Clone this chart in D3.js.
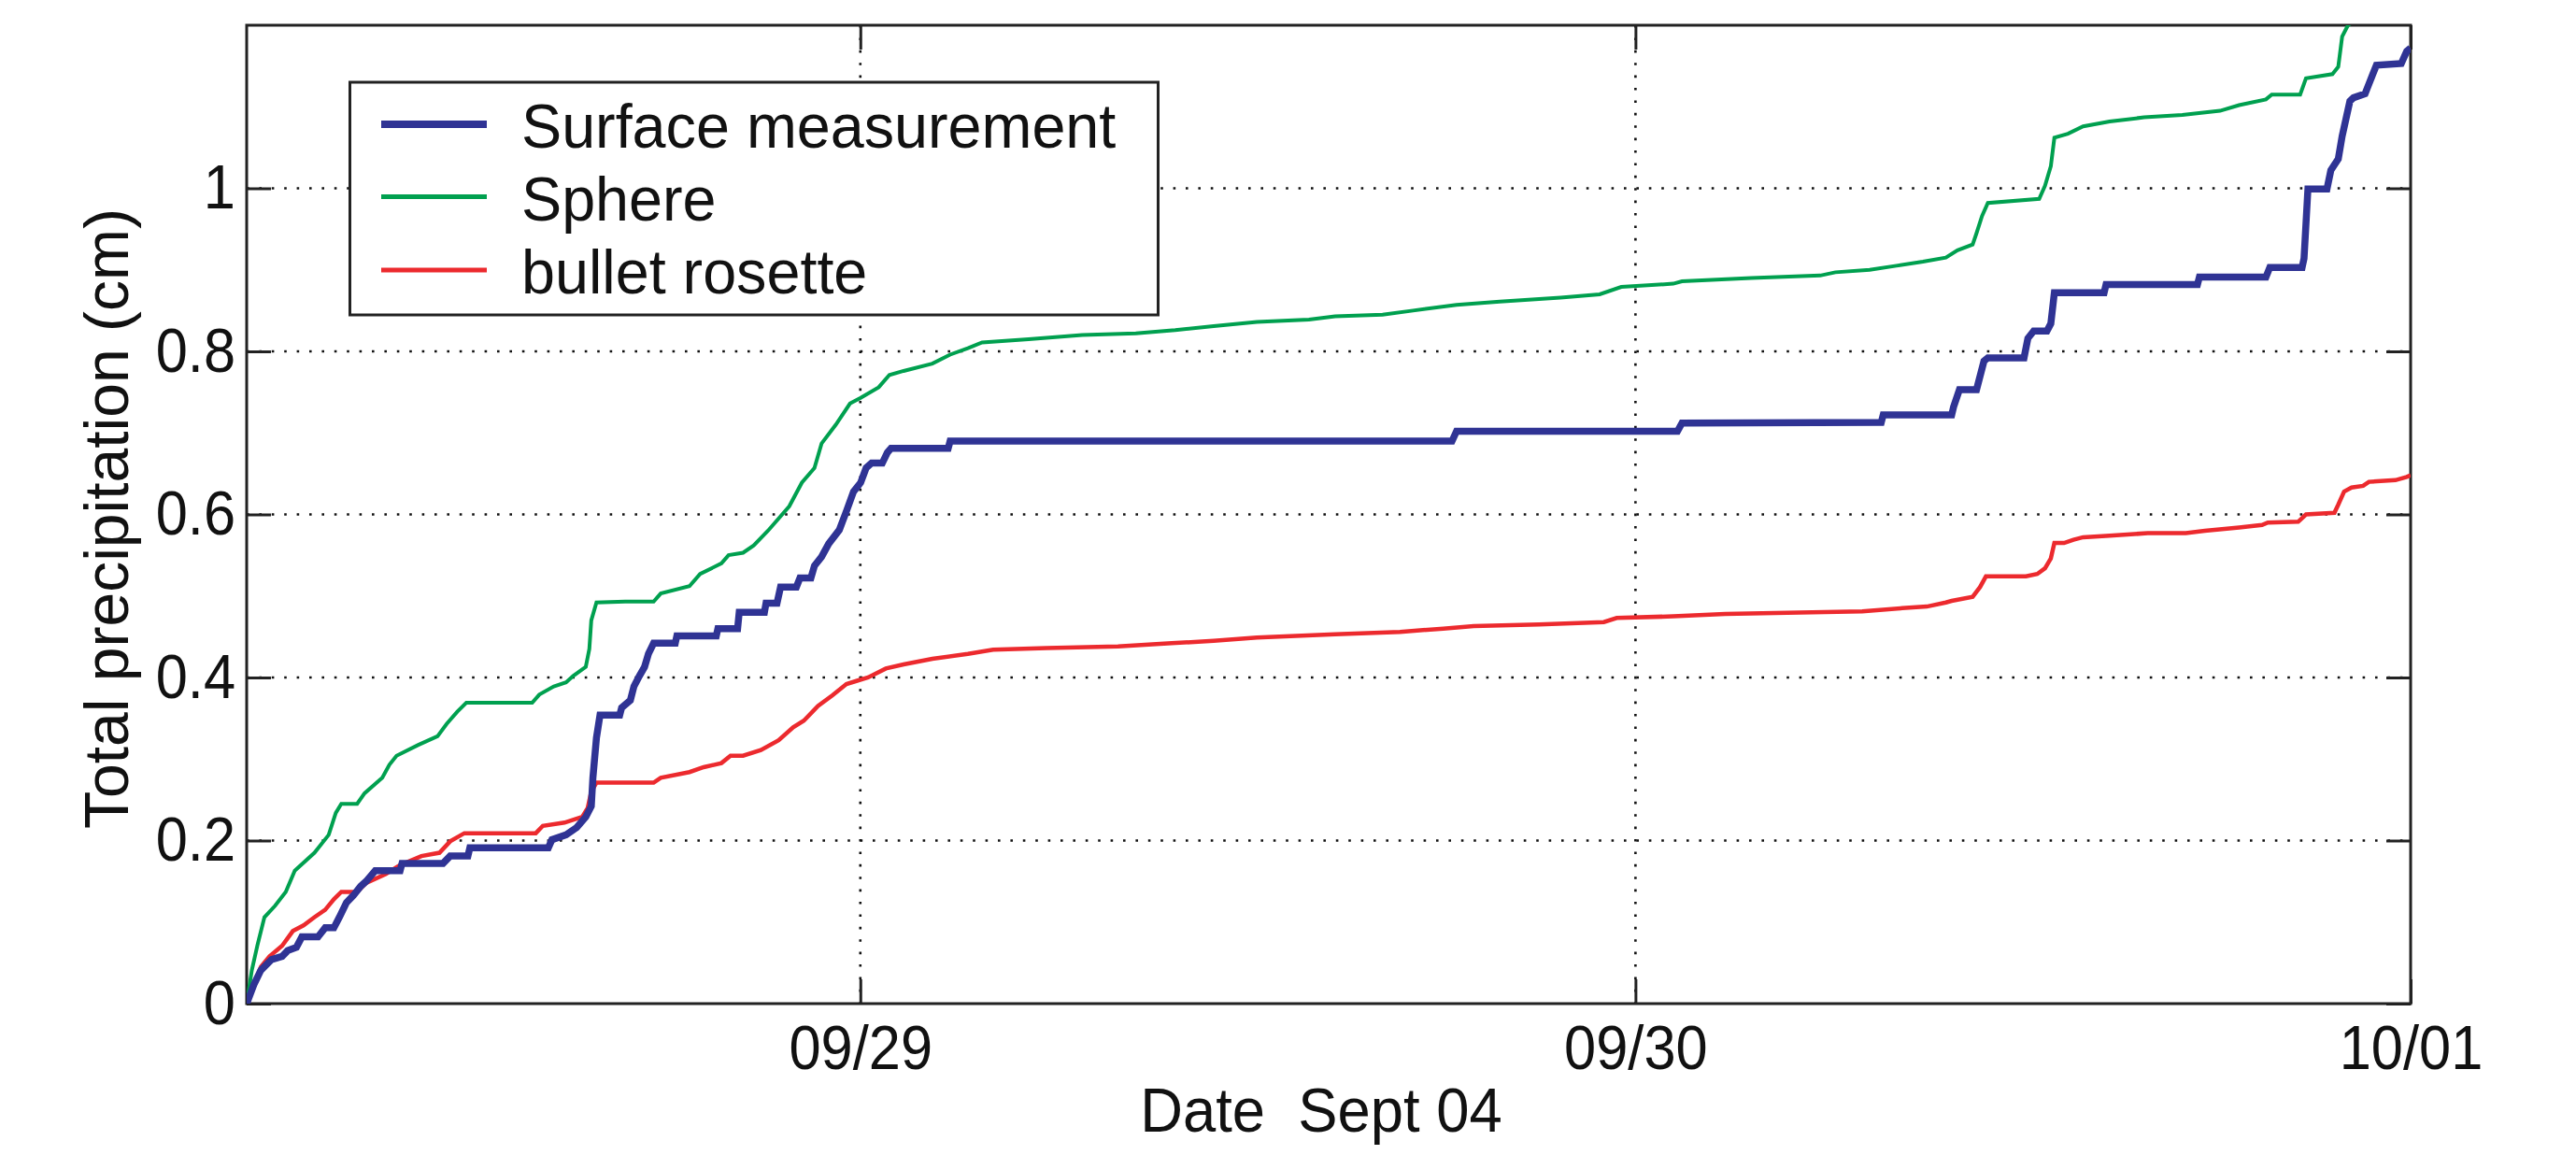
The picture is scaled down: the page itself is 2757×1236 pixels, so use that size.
<!DOCTYPE html>
<html>
<head>
<meta charset="utf-8">
<script src="https://cdn.jsdelivr.net/npm/d3@7"></script>
<style>
  html, body { margin: 0; padding: 0; background: #fff; }
  svg { display: block; }
  text { font-family: "Liberation Sans", Arial, Helvetica, sans-serif; fill: #111; }
</style>
</head>
<body>
<svg id="chart" width="2757" height="1236"></svg>
<script>
// ---------------- data ----------------
const startTime = "2004-09-28T05:00:00";
const endTime = "2004-10-01T00:00:00";
const xTickDates = ["2004-09-29T00:00:00", "2004-09-30T00:00:00", "2004-10-01T00:00:00"];
const yTickValues = [0, 0.2, 0.4, 0.6, 0.8, 1];
const yDomain = [0, 1.2];

const seriesNames = ["Surface measurement", "Sphere", "bullet rosette"];
const seriesColors = ["#2f3394", "#00a04f", "#ec2a2e"];

// hours since 09/28 05:00 and cumulative precipitation (cm)
const surfaceHours = [0, 0.22, 0.44, 0.77, 1.1, 1.27, 1.54, 1.71, 2.21, 2.43, 2.7, 2.87, 3.09, 3.31, 3.53, 3.7, 3.98, 4.75, 4.81, 6.08, 6.3, 6.85, 6.91, 9.34, 9.45, 9.89, 10.22, 10.5, 10.67, 10.72, 10.83, 10.94, 11.55, 11.61, 11.88, 11.99, 12.16, 12.32, 12.44, 12.6, 13.27, 13.32, 14.54, 14.59, 15.2, 15.25, 16.03, 16.08, 16.42, 16.53, 17.02, 17.13, 17.47, 17.58, 17.8, 18.02, 18.35, 18.57, 18.79, 19.01, 19.18, 19.35, 19.68, 19.84, 19.95, 21.72, 21.78, 37.32, 37.46, 44.3, 44.44, 50.61, 50.67, 52.79, 52.85, 53.03, 53.56, 53.79, 53.91, 55.03, 55.15, 55.33, 55.74, 55.86, 55.97, 57.51, 57.57, 60.4, 60.46, 62.52, 62.64, 63.64, 63.7, 63.82, 64.41, 64.53, 64.76, 64.88, 65.12, 65.23, 65.59, 65.82, 65.94, 66.71, 66.88, 67.0];
const surfaceCm = [0, 0.023, 0.041, 0.054, 0.058, 0.065, 0.069, 0.082, 0.082, 0.093, 0.093, 0.106, 0.124, 0.133, 0.144, 0.15, 0.163, 0.163, 0.172, 0.172, 0.181, 0.181, 0.191, 0.191, 0.201, 0.207, 0.216, 0.229, 0.242, 0.277, 0.326, 0.354, 0.354, 0.363, 0.372, 0.389, 0.402, 0.413, 0.429, 0.442, 0.442, 0.451, 0.451, 0.46, 0.46, 0.48, 0.48, 0.491, 0.491, 0.511, 0.511, 0.522, 0.522, 0.537, 0.548, 0.564, 0.581, 0.604, 0.628, 0.639, 0.657, 0.663, 0.663, 0.676, 0.681, 0.681, 0.69, 0.69, 0.702, 0.702, 0.712, 0.713, 0.722, 0.722, 0.732, 0.753, 0.753, 0.788, 0.792, 0.792, 0.816, 0.825, 0.825, 0.834, 0.872, 0.872, 0.882, 0.882, 0.891, 0.891, 0.903, 0.903, 0.914, 0.999, 0.999, 1.022, 1.036, 1.064, 1.107, 1.111, 1.116, 1.139, 1.151, 1.153, 1.168, 1.172];

const sphereHours = [0, 0.16, 0.33, 0.55, 0.88, 1.21, 1.49, 2.1, 2.54, 2.76, 2.93, 3.42, 3.65, 4.2, 4.42, 4.64, 5.3, 5.91, 6.19, 6.52, 6.8, 8.84, 9.06, 9.51, 9.89, 10.11, 10.5, 10.61, 10.67, 10.83, 11.72, 12.6, 12.82, 13.71, 14.04, 14.7, 14.92, 15.37, 15.7, 16.14, 16.8, 17.19, 17.58, 17.8, 18.24, 18.68, 19.01, 19.57, 19.9, 20.34, 21.23, 21.78, 22.33, 22.77, 24.21, 25.87, 27.53, 28.75, 29.94, 31.28, 32.89, 33.7, 35.17, 36.11, 37.46, 38.8, 40.68, 41.89, 42.56, 44.17, 44.44, 46.59, 48.72, 49.19, 50.25, 51.08, 51.9, 52.61, 52.97, 53.44, 53.56, 53.73, 53.91, 55.5, 55.68, 55.86, 55.97, 56.39, 56.86, 57.68, 58.75, 59.93, 61.1, 61.69, 62.52, 62.7, 63.58, 63.76, 64.58, 64.76, 64.88, 65.06, 65.6];
const sphereCm = [0, 0.041, 0.071, 0.106, 0.12, 0.137, 0.163, 0.185, 0.207, 0.234, 0.245, 0.245, 0.258, 0.277, 0.293, 0.304, 0.317, 0.328, 0.343, 0.358, 0.369, 0.369, 0.379, 0.389, 0.394, 0.402, 0.413, 0.435, 0.47, 0.492, 0.493, 0.493, 0.503, 0.512, 0.527, 0.54, 0.55, 0.553, 0.562, 0.58, 0.61, 0.639, 0.657, 0.687, 0.71, 0.736, 0.743, 0.756, 0.771, 0.776, 0.785, 0.796, 0.804, 0.811, 0.815, 0.82, 0.822, 0.826, 0.831, 0.836, 0.839, 0.843, 0.845, 0.85, 0.857, 0.861, 0.866, 0.87, 0.879, 0.883, 0.886, 0.89, 0.893, 0.897, 0.9, 0.905, 0.91, 0.915, 0.924, 0.931, 0.945, 0.966, 0.982, 0.987, 1.003, 1.027, 1.062, 1.067, 1.076, 1.082, 1.087, 1.09, 1.095, 1.102, 1.109, 1.115, 1.115, 1.135, 1.14, 1.149, 1.186, 1.2, 1.215];

const rosetteHours = [0, 0.22, 0.44, 0.71, 1.1, 1.43, 1.76, 2.1, 2.43, 2.7, 2.93, 3.42, 3.7, 4.31, 4.75, 5.41, 5.97, 6.3, 6.74, 8.95, 9.17, 9.84, 10.39, 10.56, 10.67, 10.83, 12.6, 12.82, 13.71, 14.15, 14.7, 14.98, 15.37, 15.92, 16.47, 16.92, 17.25, 17.69, 18.13, 18.57, 18.9, 19.24, 19.79, 20.34, 21.23, 22.33, 23.11, 24.77, 26.98, 28.64, 29.94, 31.28, 33.7, 35.71, 37.05, 37.99, 40.01, 42.02, 42.42, 44.17, 45.78, 48.47, 50.02, 51.26, 52.02, 52.61, 52.79, 53.44, 53.67, 53.85, 55.09, 55.44, 55.68, 55.86, 55.97, 56.27, 56.56, 56.86, 57.68, 58.86, 60.04, 60.63, 61.69, 62.4, 62.58, 63.52, 63.76, 64.64, 64.76, 64.94, 65.17, 65.53, 65.71, 66.53, 66.88, 67.0];
const rosetteCm = [0, 0.023, 0.045, 0.058, 0.071, 0.089, 0.096, 0.106, 0.115, 0.128, 0.137, 0.137, 0.148, 0.159, 0.17, 0.181, 0.185, 0.199, 0.209, 0.209, 0.218, 0.222, 0.229, 0.24, 0.26, 0.271, 0.271, 0.277, 0.284, 0.29, 0.295, 0.304, 0.304, 0.311, 0.323, 0.339, 0.347, 0.365, 0.378, 0.392, 0.396, 0.4, 0.411, 0.416, 0.423, 0.429, 0.434, 0.436, 0.438, 0.442, 0.445, 0.449, 0.453, 0.456, 0.46, 0.463, 0.465, 0.468, 0.473, 0.475, 0.478, 0.48, 0.481, 0.485, 0.487, 0.492, 0.494, 0.499, 0.511, 0.524, 0.524, 0.527, 0.534, 0.546, 0.565, 0.565, 0.569, 0.572, 0.574, 0.577, 0.577, 0.58, 0.584, 0.587, 0.59, 0.591, 0.6, 0.602, 0.612, 0.628, 0.633, 0.635, 0.64, 0.642, 0.646, 0.648];

const xLabel = "Date  Sept 04";
const yLabel = "Total precipitation (cm)";

// ---------------- drawing ----------------
(function () {
const svg = d3.select("#chart");
const pL = 264, pR = 2580, pT = 27, pB = 1074;
const FS = 66;

// narrow glyphs slightly (reference font is a little condensed)
function condense(sel, k) {
  sel.each(function () {
    const w = this.getComputedTextLength();
    d3.select(this).attr("textLength", w * k).attr("lengthAdjust", "spacingAndGlyphs");
  });
}

const t0 = new Date(startTime);
const toDate = h => new Date(t0.getTime() + h * 3600 * 1000);

const x = d3.scaleTime().domain([t0, new Date(endTime)]).range([pL, pR]);
const y = d3.scaleLinear().domain(yDomain).range([pB, pT]);
const xTicks = xTickDates.map(s => new Date(s));

svg.append("defs").append("clipPath").attr("id", "plotclip")
  .append("rect").attr("x", pL).attr("y", pT).attr("width", pR - pL).attr("height", pB - pT);

// grid lines (dotted)
const grid = svg.append("g").attr("stroke", "#111").attr("stroke-width", 2.6).attr("stroke-dasharray", "2.6 10.8");
grid.selectAll("line.h").data(yTickValues.filter(v => v > 0)).join("line").attr("class", "h")
  .attr("x1", pL).attr("x2", pR).attr("y1", d => y(d)).attr("y2", d => y(d));
grid.selectAll("line.v").data(xTicks.slice(0, 2)).join("line").attr("class", "v")
  .attr("x1", d => x(d)).attr("x2", d => x(d)).attr("y1", pT).attr("y2", pB);

// axes
const tick = 26;
const axL = svg.append("g").attr("transform", `translate(${pL},0)`)
  .call(d3.axisLeft(y).tickValues(yTickValues).tickFormat(d3.format("~g")).tickSizeInner(-tick).tickSizeOuter(0).tickPadding(12));
const axR = svg.append("g").attr("transform", `translate(${pR},0)`)
  .call(d3.axisRight(y).tickValues(yTickValues).tickFormat("").tickSizeInner(-tick).tickSizeOuter(0));
const axB = svg.append("g").attr("transform", `translate(0,${pB})`)
  .call(d3.axisBottom(x).tickValues(xTicks).tickFormat(d3.timeFormat("%m/%d")).tickSizeInner(-tick).tickSizeOuter(0).tickPadding(23));
const axT = svg.append("g").attr("transform", `translate(0,${pT})`)
  .call(d3.axisTop(x).tickValues(xTicks).tickFormat("").tickSizeInner(-tick).tickSizeOuter(0));
[axL, axR, axB, axT].forEach(g => {
  g.select(".domain").remove();
  g.selectAll(".tick line").attr("stroke", "#222").attr("stroke-width", 3);
  g.selectAll(".tick text").attr("font-size", FS).attr("fill", "#111")
    .attr("font-family", '"Liberation Sans", Arial, sans-serif');
});
condense(axL.selectAll(".tick text"), 0.93);
condense(axB.selectAll(".tick text"), 0.93);

// frame
svg.append("rect").attr("x", pL).attr("y", pT).attr("width", pR - pL).attr("height", pB - pT)
  .attr("fill", "none").attr("stroke", "#222").attr("stroke-width", 3);

// lines
const series = [
  { hours: surfaceHours, cm: surfaceCm, width: 7.5 },
  { hours: sphereHours, cm: sphereCm, width: 4 },
  { hours: rosetteHours, cm: rosetteCm, width: 4.5 }
];
const line = d3.line().x(d => x(d[0])).y(d => y(d[1]));
const lines = svg.append("g").attr("clip-path", "url(#plotclip)");
[2, 1, 0].forEach(i => {
  const s = series[i];
  const pts = s.hours.map((h, j) => [toDate(h), s.cm[j]]);
  lines.append("path").attr("d", line(pts)).attr("fill", "none")
    .attr("stroke", seriesColors[i]).attr("stroke-width", s.width)
    .attr("stroke-linejoin", "miter").attr("stroke-linecap", "butt");
});

// legend
const lg = svg.append("g");
lg.append("rect").attr("x", 374.5).attr("y", 88).attr("width", 865).attr("height", 249)
  .attr("fill", "#fff").attr("stroke", "#222").attr("stroke-width", 3);
const rowY = [133, 210.5, 289];
const legW = [8, 5, 5];
seriesNames.forEach((name, i) => {
  lg.append("line").attr("x1", 408).attr("x2", 521).attr("y1", rowY[i]).attr("y2", rowY[i])
    .attr("stroke", seriesColors[i]).attr("stroke-width", legW[i]);
  const t = lg.append("text").attr("x", 558).attr("y", rowY[i] + 25).attr("font-size", FS).text(name);
  condense(t, 0.98);
});

// axis labels
const xl = svg.append("text").attr("x", (pL + pR) / 2 - 8).attr("y", 1211)
  .attr("text-anchor", "middle").attr("font-size", FS).style("white-space", "pre").text(xLabel);
condense(xl, 0.96);
svg.append("text").attr("transform", `translate(137,555) rotate(-90)`)
  .attr("text-anchor", "middle").attr("font-size", FS).text(yLabel);
})();
</script>
</body>
</html>
